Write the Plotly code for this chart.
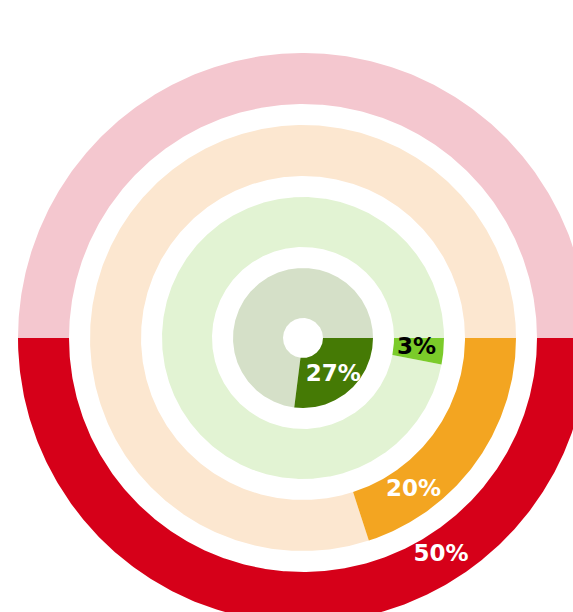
import numpy as np
import plotly.graph_objects as go

# ---- data (rings listed outer -> inner) ----
ring_names = ["Ring A", "Ring B", "Ring C", "Ring D"]
percent_values = [50, 20, 3, 27]
percent_labels = ["50%", "20%", "3%", "27%"]

# ---- styling ----
fill_colors = ["#D60019", "#F3A521", "#7BCB2A", "#457A05"]
rest_colors = ["#F4C7CF", "#FCE7D0", "#E2F3D3", "#D5E0C8"]
label_colors = ["white", "white", "black", "white"]
outer_r = [285, 213, 141, 70]
inner_r = [234, 162, 91, 20]
label_angle_deg = [57.5, 54, 5, 51]   # where each label sits (clockwise from 3 o'clock)
label_radius = [257, 188, 114, 48]

W, H = 573, 612
CX, CY = 303, 338  # centre in figure pixels


def arc_polygon(t0, t1, r_in, r_out):
    n = max(int(abs(t1 - t0) * 2), 4)
    th = np.radians(np.linspace(t0, t1, n))
    xs = np.concatenate([r_out * np.cos(th), r_in * np.cos(th[::-1])])
    ys = np.concatenate([-r_out * np.sin(th), -r_in * np.sin(th[::-1])])
    return np.append(xs, xs[0]), np.append(ys, ys[0])


fig = go.Figure()
for i, (name, v, lab) in enumerate(zip(ring_names, percent_values, percent_labels)):
    ro, ri = outer_r[i], inner_r[i]
    end = v * 3.6
    x, y = arc_polygon(end, 360, ri, ro)
    fig.add_trace(go.Scatter(x=x, y=y, fill="toself", mode="lines", line=dict(width=0),
                             fillcolor=rest_colors[i], hoverinfo="skip", showlegend=False))
    x, y = arc_polygon(0, end, ri, ro)
    fig.add_trace(go.Scatter(x=x, y=y, fill="toself", mode="lines", line=dict(width=0),
                             fillcolor=fill_colors[i], name=name, hoverinfo="name",
                             showlegend=False))
    ang = np.radians(label_angle_deg[i])
    rm = label_radius[i]
    fig.add_trace(go.Scatter(x=[rm * np.cos(ang)], y=[-rm * np.sin(ang)], mode="text",
                             text=[lab], hoverinfo="skip", showlegend=False,
                             textfont=dict(family="DejaVu Sans", size=23,
                                           color=label_colors[i], weight="bold")))

fig.update_layout(
    width=W, height=H,
    margin=dict(l=0, r=0, t=0, b=0),
    paper_bgcolor="white", plot_bgcolor="white",
    xaxis=dict(range=[-CX, W - CX], visible=False, fixedrange=True),
    yaxis=dict(range=[-(H - CY), CY], visible=False, fixedrange=True),
)
fig.write_html(
    "out.html",
    config={"displayModeBar": False},
    post_script="document.body.style.margin='0';document.body.style.overflow='hidden';",
)
